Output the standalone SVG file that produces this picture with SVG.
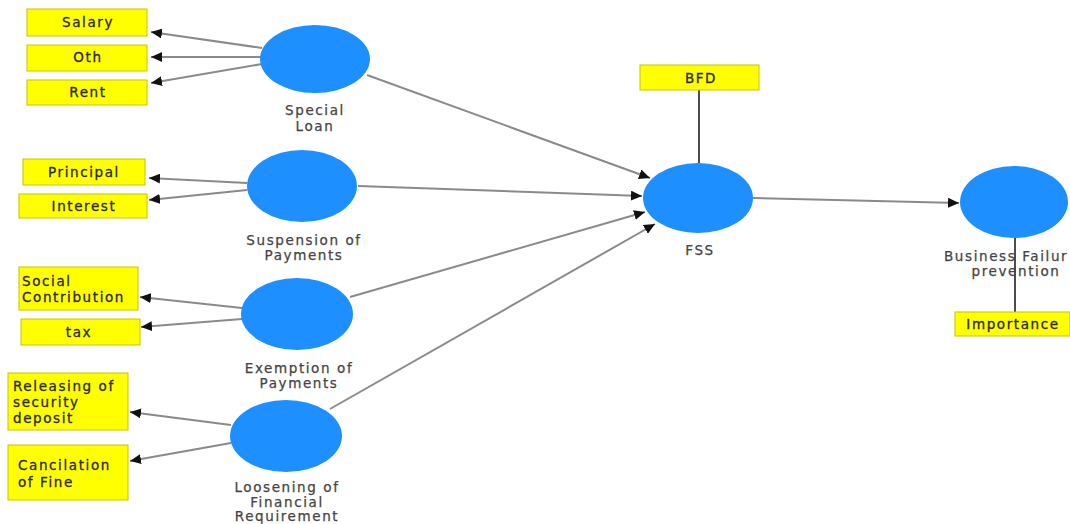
<svg xmlns="http://www.w3.org/2000/svg" width="1070" height="524" viewBox="0 0 1070 524">
<defs>
<marker id="ah" markerUnits="userSpaceOnUse" markerWidth="12" markerHeight="10" refX="11" refY="5" orient="auto">
<path d="M0,0 L11,5 L0,10 z" fill="#111"/>
</marker>
<style>
.box{fill:#ffff00;stroke:#c8c400;stroke-width:1}
.lv{fill:#1e8fff}
.bt{font-family:"DejaVu Sans",Verdana,sans-serif;font-size:13.5px;letter-spacing:1.6px;fill:#2a2a2a;stroke:#2a2a2a;stroke-width:0.3}
.lb{font-family:"DejaVu Sans",Verdana,sans-serif;font-size:13.5px;letter-spacing:1.6px;fill:#444;stroke:#444;stroke-width:0.25;text-anchor:middle}
.c{text-anchor:middle}
.ar{stroke:#8a8a8a;stroke-width:2;fill:none;marker-end:url(#ah)}
.ln{stroke:#111;stroke-width:1.5;fill:none}
</style>
</defs>
<rect width="1070" height="524" fill="#fff"/>
<g id="connectors">
<line class="ar" x1="262" y1="48" x2="151" y2="32"/>
<line class="ar" x1="262" y1="57" x2="151" y2="57"/>
<line class="ar" x1="262" y1="64" x2="151" y2="83"/>
<line class="ar" x1="247" y1="183" x2="149" y2="178"/>
<line class="ar" x1="247" y1="190" x2="149" y2="200"/>
<line class="ar" x1="242" y1="308" x2="140" y2="297"/>
<line class="ar" x1="242" y1="319" x2="141" y2="327"/>
<line class="ar" x1="231" y1="425" x2="130" y2="412"/>
<line class="ar" x1="231" y1="443" x2="130" y2="461"/>
<line class="ar" x1="367" y1="75" x2="650" y2="178"/>
<line class="ar" x1="358" y1="186" x2="642" y2="196"/>
<line class="ar" x1="350" y1="297" x2="645" y2="212"/>
<line class="ar" x1="330" y1="409" x2="655" y2="224"/>
<line class="ar" x1="753" y1="198" x2="959" y2="203"/>
<line class="ln" x1="699" y1="90" x2="699" y2="163"/>
<line class="ln" x1="1015" y1="237" x2="1015" y2="312"/>
</g>
<g id="n-salary"><rect class="box" x="27" y="9" width="120" height="27"/><text class="bt c" x="88" y="27">Salary</text></g>
<g id="n-oth"><rect class="box" x="27" y="45" width="120" height="26"/><text class="bt c" x="88" y="62">Oth</text></g>
<g id="n-rent"><rect class="box" x="27" y="80" width="120" height="25"/><text class="bt c" x="88" y="97">Rent</text></g>
<g id="n-special-loan"><ellipse class="lv" cx="315" cy="59" rx="55" ry="34"/><text class="lb" x="315" y="115">Special</text><text class="lb" x="315" y="131">Loan</text></g>
<g id="n-principal"><rect class="box" x="23" y="159" width="122" height="26"/><text class="bt c" x="84" y="177">Principal</text></g>
<g id="n-interest"><rect class="box" x="19" y="194" width="128" height="24"/><text class="bt c" x="84" y="211">Interest</text></g>
<g id="n-suspension"><ellipse class="lv" cx="302" cy="186" rx="55" ry="36"/><text class="lb" x="304" y="245">Suspension of</text><text class="lb" x="304" y="260">Payments</text></g>
<g id="n-social"><rect class="box" x="19" y="267" width="119" height="43"/><text class="bt" x="22" y="286">Social</text><text class="bt" x="22" y="302">Contribution</text></g>
<g id="n-tax"><rect class="box" x="21" y="319" width="119" height="26"/><text class="bt c" x="79" y="337">tax</text></g>
<g id="n-exemption"><ellipse class="lv" cx="297" cy="314" rx="56" ry="36"/><text class="lb" x="299" y="373">Exemption of</text><text class="lb" x="299" y="388">Payments</text></g>
<g id="n-releasing"><rect class="box" x="8" y="373" width="120" height="57"/><text class="bt" x="13" y="391">Releasing of</text><text class="bt" x="13" y="407">security</text><text class="bt" x="13" y="423">deposit</text></g>
<g id="n-cancilation"><rect class="box" x="8" y="445" width="120" height="55"/><text class="bt" x="18" y="470">Cancilation</text><text class="bt" x="18" y="487">of Fine</text></g>
<g id="n-loosening"><ellipse class="lv" cx="286" cy="436" rx="56" ry="36"/><text class="lb" x="287" y="492">Loosening of</text><text class="lb" x="287" y="507">Financial</text><text class="lb" x="287" y="521">Requirement</text></g>
<g id="n-bfd"><rect class="box" x="640" y="65" width="119" height="25"/><text class="bt c" x="701" y="83">BFD</text></g>
<g id="n-fss"><ellipse class="lv" cx="698" cy="198" rx="55" ry="35"/><text class="lb" x="700" y="255">FSS</text></g>
<g id="n-bfp"><ellipse class="lv" cx="1014" cy="202" rx="54" ry="36"/><text class="lb" x="944" y="261" style="text-anchor:start">Business Failur</text><text class="lb" x="1016" y="276">prevention</text></g>
<g id="n-importance"><rect class="box" x="955" y="312" width="115" height="24"/><text class="bt c" x="1013" y="329">Importance</text></g>
</svg>
